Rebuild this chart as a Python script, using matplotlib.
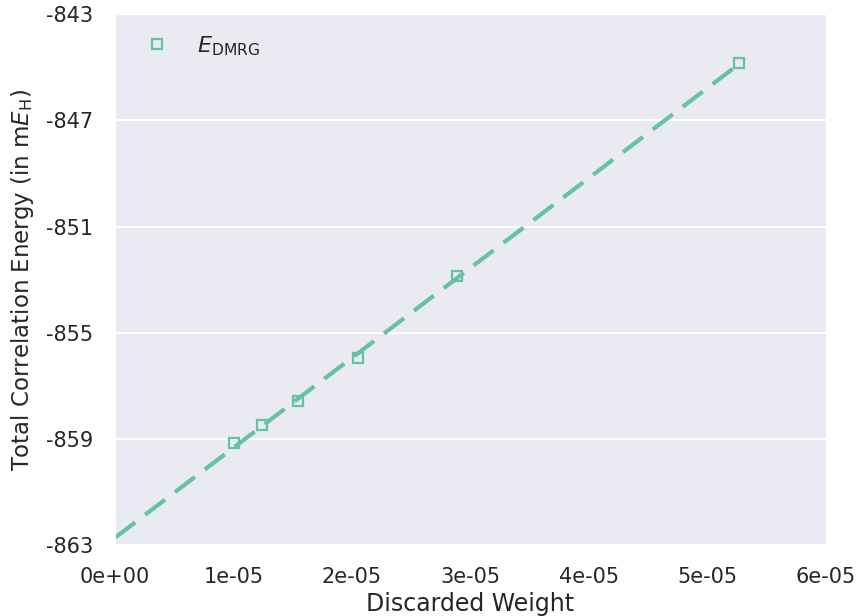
import numpy as np
import matplotlib
matplotlib.use("Agg")
import matplotlib.pyplot as plt
import seaborn as sns

# discarded weight vs total correlation energy (mE_H)
dw = np.array([1.004e-5, 1.24e-5, 1.544e-5, 2.05e-5, 2.886e-5, 5.27e-5])
energy = np.array([-859.16, -858.48, -857.58, -855.96, -852.87, -844.85])
yticks = [-843, -847, -851, -855, -859, -863]
xticks = [0, 1e-5, 2e-5, 3e-5, 4e-5, 5e-5, 6e-5]


def driver():
    sns.set_style("darkgrid")
    plt.rcParams['font.family'] = ['DejaVu Sans']
    plt.rcParams['mathtext.fontset'] = 'dejavusans'
    col = sns.color_palette("Set2")[0]

    fig, ax = plt.subplots(figsize=(8.6, 6.16), dpi=100)

    # linear extrapolation to zero discarded weight
    p = np.polyfit(dw, energy, 1)
    xfit = np.linspace(0, dw.max(), 100)
    ax.plot(xfit, np.polyval(p, xfit), '--', color=col, lw=3, dashes=(6, 3))

    ax.plot(dw, energy, 's', mfc='none', mec=col, mew=1.6, ms=7,
            label=r'$E_\mathrm{DMRG}$')

    ax.set_xlim(0, 6e-5)
    ax.set_ylim(-863, -843)
    ax.set_yticks(yticks)
    ax.set_yticklabels([str(t) for t in yticks])
    ax.set_xticks(xticks)
    ax.set_xticklabels(['0e+00', '1e-05', '2e-05', '3e-05', '4e-05', '5e-05', '6e-05'])
    ax.tick_params(labelsize=15, length=0, pad=16)
    ax.grid(axis='x', visible=False)
    ax.grid(axis='y', color='white', lw=1.5)

    ax.set_xlabel('Discarded Weight', fontsize=17, labelpad=3)
    ax.set_ylabel(r'Total Correlation Energy (in m$E_\mathrm{H}$)', fontsize=16.5,
                  labelpad=7)
    ax.legend(loc='upper left', frameon=False, fontsize=16, handletextpad=0.8)

    plt.subplots_adjust(left=0.134, right=0.96, top=0.977, bottom=0.115)
    plt.savefig('out.png')
    return


driver()
